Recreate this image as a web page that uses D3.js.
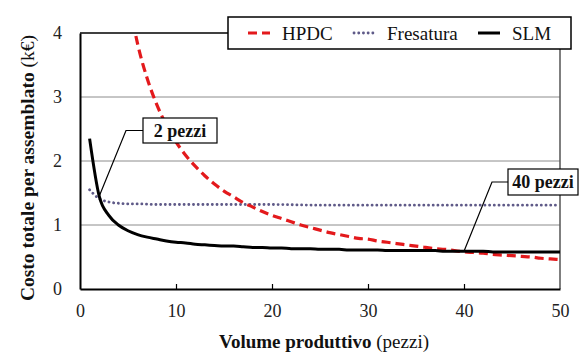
<!DOCTYPE html>
<html><head><meta charset="utf-8">
<script src="https://cdn.jsdelivr.net/npm/d3@7"></script>
<style>body{margin:0;background:#fff}svg{display:block}</style>
</head><body><svg id="c" width="588" height="360"></svg>
<script>
const xTicks = [0,10,20,30,40,50];
const yTicks = [0,1,2,3,4];
const seriesNames = ["HPDC","Fresatura","SLM"];
const hpdcX = [5,6,7,8,9,10,11,12,13,14,15,16,17,18,19,20,21,22,23,24,25,26,27,28,29,30,31,32,33,34,35,36,37,38,39,40,41,42,43,44,45,46,47,48,49,50];
const hpdcY = [4.6,3.83,3.29,2.88,2.56,2.30,2.09,1.92,1.77,1.64,1.53,1.44,1.35,1.28,1.21,1.15,1.10,1.05,1.00,0.96,0.92,0.88,0.85,0.82,0.79,0.78,0.75,0.73,0.71,0.69,0.67,0.65,0.63,0.62,0.60,0.58,0.57,0.56,0.54,0.53,0.52,0.51,0.50,0.48,0.47,0.46];
const fresX = [1,2,3,4,5,6,8,10,15,20,25,30,35,40,45,50];
const fresY = [1.55,1.41,1.36,1.34,1.33,1.33,1.32,1.32,1.32,1.32,1.31,1.31,1.31,1.31,1.31,1.31];
const slmX = [1,2,3,4,5,6,7,8,9,10,11,12,13,14,15,16,17,18,19,20,21,22,23,24,25,26,27,28,29,30,31,32,33,34,35,36,37,38,39,40,41,42,43,44,45,46,47,48,49,50];
const slmY = [2.35,1.45,1.15,1.00,0.91,0.85,0.81,0.78,0.75,0.73,0.72,0.70,0.69,0.68,0.67,0.67,0.66,0.65,0.65,0.64,0.64,0.63,0.63,0.63,0.62,0.62,0.62,0.61,0.61,0.61,0.61,0.60,0.60,0.60,0.60,0.60,0.60,0.59,0.59,0.59,0.59,0.59,0.58,0.58,0.58,0.58,0.58,0.58,0.58,0.58];
const notes = [{label:"2 pezzi", x:2, y:1.45}, {label:"40 pezzi", x:40, y:0.59}];

const FONT = "Liberation Serif";
const svg = d3.select("#c");
const L=80,R=560,T=33,B=289;
const x = d3.scaleLinear().domain([0,50]).range([L,R]);
const y = d3.scaleLinear().domain([0,4]).range([B,T]);

// gridlines
svg.append("g").selectAll("line").data(yTicks.filter(d=>d>0&&d<4)).join("line")
  .attr("x1",L).attr("x2",R).attr("y1",d=>y(d)).attr("y2",d=>y(d))
  .attr("stroke","#8c8c8c").attr("stroke-width",1);

// frame: top black, right gray
svg.append("line").attr("x1",L).attr("x2",R).attr("y1",T).attr("y2",T).attr("stroke","#000").attr("stroke-width",1.5);
svg.append("line").attr("x1",R).attr("x2",R).attr("y1",T).attr("y2",B).attr("stroke","#555").attr("stroke-width",1.5);

// axes
const xa = svg.append("g").attr("transform",`translate(0,${B})`)
  .call(d3.axisBottom(x).tickValues(xTicks).tickFormat(d3.format("d")).tickSize(-5).tickPadding(15).tickSizeOuter(0));
xa.attr("font-family",FONT);
xa.select(".domain").attr("stroke","#000").attr("stroke-width",2);
xa.selectAll(".tick line").attr("stroke","#000").attr("stroke-width",1.2);
xa.selectAll(".tick").filter(d=>d===0||d===50).select("line").remove();
xa.selectAll("text").attr("font-size",18).attr("fill","#222").attr("font-family",FONT);

const ya = svg.append("g").attr("transform",`translate(${L},0)`)
  .call(d3.axisLeft(y).tickValues(yTicks).tickFormat(d3.format("d")).tickSize(0).tickPadding(18).tickSizeOuter(0));
ya.attr("font-family",FONT);
ya.select(".domain").attr("stroke","#000").attr("stroke-width",2);
ya.selectAll("text").attr("font-size",18).attr("fill","#222").attr("font-family",FONT);

// clip
svg.append("clipPath").attr("id","clip").append("rect").attr("x",L).attr("y",T).attr("width",R-L).attr("height",B-T);
const line = d3.line().x(d=>x(d[0])).y(d=>y(d[1])).curve(d3.curveMonotoneX);
const g = svg.append("g").attr("clip-path","url(#clip)");
g.append("path").datum(fresX.map((v,i)=>[v,fresY[i]])).attr("d",line)
  .attr("fill","none").attr("stroke","#5f5a88").attr("stroke-width",2.8)
  .attr("stroke-dasharray","0.1,4.6").attr("stroke-linecap","round");
g.append("path").datum(hpdcX.map((v,i)=>[v,hpdcY[i]])).attr("d",line)
  .attr("fill","none").attr("stroke","#e3191c").attr("stroke-width",3.2)
  .attr("stroke-dasharray","9,5");
g.append("path").datum(slmX.map((v,i)=>[v,slmY[i]])).attr("d",line)
  .attr("fill","none").attr("stroke","#000").attr("stroke-width",3);

// annotations
const boxes = [
  {bx:143, by:118, bw:74, bh:25, hx:126},
  {bx:508, by:169, bw:70, bh:26, hx:492}
];
notes.forEach((n,i)=>{
  const b = boxes[i];
  const my = b.by + b.bh/2;
  svg.append("polyline")
    .attr("points",`${x(n.x)},${y(n.y)} ${b.hx},${my} ${b.bx},${my}`)
    .attr("fill","none").attr("stroke","#000").attr("stroke-width",1.2);
  svg.append("rect").attr("x",b.bx).attr("y",b.by).attr("width",b.bw).attr("height",b.bh)
    .attr("fill","#fff").attr("stroke","#000").attr("stroke-width",1.2);
  svg.append("text").attr("x",b.bx+b.bw/2).attr("y",my+6).attr("text-anchor","middle")
    .attr("font-family",FONT).attr("font-size",18).attr("font-weight","bold").attr("fill","#111").text(n.label);
});

// legend
const lg = svg.append("g");
lg.append("rect").attr("x",228).attr("y",17).attr("width",343).attr("height",32)
  .attr("fill","#fff").attr("stroke","#000").attr("stroke-width",1.5);
const legItems = [
  {sx:248, tx:282, stroke:"#e3191c", w:3.2, dash:"9,5", cap:"butt"},
  {sx:354, tx:387, stroke:"#5f5a88", w:2.8, dash:"0.1,4.6", cap:"round"},
  {sx:478, tx:512, stroke:"#000", w:3, dash:null, cap:"butt"}
];
legItems.forEach((it,i)=>{
  lg.append("line").attr("x1",it.sx).attr("x2",it.sx+22).attr("y1",33).attr("y2",33)
    .attr("stroke",it.stroke).attr("stroke-width",it.w).attr("stroke-dasharray",it.dash).attr("stroke-linecap",it.cap);
  lg.append("text").attr("x",it.tx).attr("y",39.5).attr("font-family",FONT).attr("font-size",19).attr("fill","#111").text(seriesNames[i]);
});

// axis titles
const xt = svg.append("text").attr("x",324).attr("y",348).attr("text-anchor","middle").attr("font-family",FONT).attr("font-size",19).attr("fill","#111");
xt.append("tspan").attr("font-weight","bold").text("Volume produttivo");
xt.append("tspan").text(" (pezzi)");
const yt = svg.append("text").attr("transform",`translate(34,168) rotate(-90)`).attr("text-anchor","middle").attr("font-family",FONT).attr("font-size",19.5).attr("fill","#111");
yt.append("tspan").attr("font-weight","bold").text("Costo totale per assemblato");
yt.append("tspan").text(" (k€)");
</script></body></html>
